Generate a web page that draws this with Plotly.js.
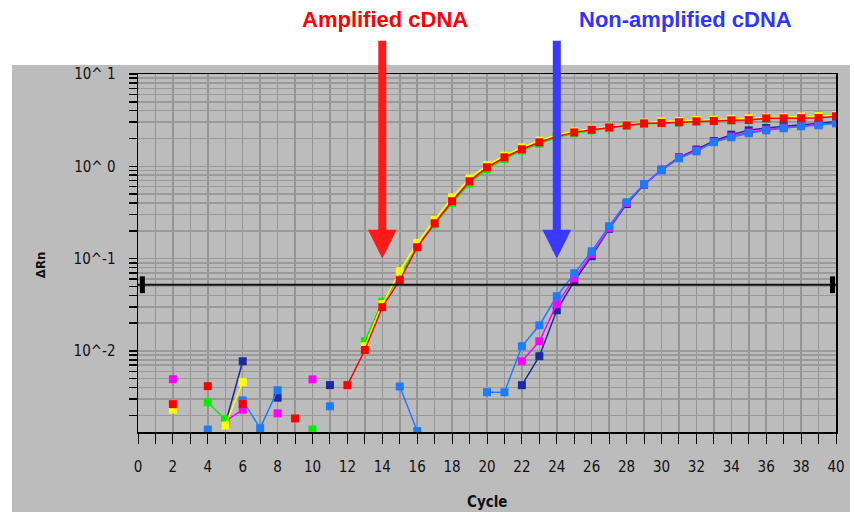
<!DOCTYPE html>
<html>
<head>
<meta charset="utf-8">
<script src="https://cdn.plot.ly/plotly-3.0.1.min.js"></script>
<style>html,body{margin:0;padding:0;background:#fff;}#chart{width:854px;height:512px;}</style>
</head>
<body>
<div id="chart"></div>
<script>
// Cycles 1..40
const cycles = Array.from({length: 40}, (_, i) => i + 1);

// Amplified cDNA series (null = not plotted)
const redVals = [null,0.00264,null,0.00414,null,0.00265,null,null,0.00185,null,
  null,0.00425,0.0102,0.0297,0.0582,0.1325,0.241,0.418,0.687,0.975,
  1.25,1.53,1.82,2.11,2.33,2.49,2.64,2.78,2.92,2.95,
  3.0,3.07,3.1,3.15,3.17,3.31,3.31,3.32,3.33,3.48];
const yellowVals = [null,0.0023,null,null,0.00155,0.00457,null,null,null,null,
  null,null,0.0112,0.032,0.0728,0.148,0.262,0.46,0.74,1.03,
  1.3,1.6,1.9,2.18,2.38,2.55,2.68,2.82,2.98,3.06,
  3.1,3.18,3.2,3.27,3.3,3.38,3.4,3.45,3.5,3.6];
const greenVals = [null,null,null,0.00277,0.0018,null,null,null,null,0.0014,
  null,null,0.0127,0.034,0.063,0.135,0.235,0.40,0.65,0.93,
  1.2,1.48,1.76,2.05,2.28,2.45,2.6,2.74,2.88,2.93,
  2.98,3.05,3.1,3.15,3.2,3.3,3.35,3.42,3.55,3.6];

// Non-amplified cDNA series
const navyVals = [null,null,null,null,0.0016,0.0077,null,0.0031,null,null,
  0.00425,null,null,null,null,null,null,null,null,null,
  null,0.00424,0.00874,0.0275,0.0568,0.106,0.21,0.39,0.63,0.92,
  1.25,1.52,1.88,2.2,2.45,2.6,2.72,2.82,2.9,3.05];
const magentaVals = [null,0.00492,null,null,0.00172,0.0023,null,0.0021,null,0.0049,
  null,null,null,null,null,null,null,null,null,null,
  null,0.0077,0.0127,0.032,0.061,0.112,0.215,0.40,0.635,0.91,
  1.23,1.48,1.84,2.1,2.32,2.5,2.62,2.74,2.82,2.95];
const lightBlueVals = [null,null,null,0.0014,null,0.0029,0.00145,0.00374,null,null,
  0.0025,null,null,null,0.0041,0.00135,null,null,null,0.00356,
  0.00356,0.0112,0.0189,0.039,0.0693,0.12,0.224,0.407,0.638,0.905,
  1.22,1.45,1.82,2.06,2.28,2.45,2.58,2.71,2.78,2.92];

// Threshold
const thresholdValue = 0.052;
const thresholdLineX = [0, 40];
const thresholdMarkX = [0.25, 39.8];

// Axis ticks
const xTickVals = [0,2,4,6,8,10,12,14,16,18,20,22,24,26,28,30,32,34,36,38,40];
const yDecades = [0.01, 0.1, 1, 10];
const yDecadeLabels = ["10^-2", "10^-1", "10^ 0", "10^ 1"];
const yMinorMult = [2,3,4,5,6,7,8,9];

// Arrow positions (cycle)
const ampArrowCycle = 14;
const nonArrowCycle = 24;

let yTickVals = [], yTickText = [];
[0.001, 0.01, 0.1, 1].forEach(d => {
  if (d >= 0.01) { yTickVals.push(d); yTickText.push(yDecadeLabels[yDecades.indexOf(d)]); }
  yMinorMult.forEach(m => { const v = +(m * d).toPrecision(3); if (v > 0.0013) { yTickVals.push(v); yTickText.push(""); } });
});
yTickVals.push(10); yTickText.push("10^ 1");

function series(vals, color, name) {
  return {
    x: cycles, y: vals, type: 'scatter', mode: 'lines+markers', name: name,
    connectgaps: false,
    line: {color: color, width: 1.5},
    marker: {symbol: 'square', size: 8, color: color, line: {width: 0}}
  };
}

const data = [
  series(navyVals, '#1b2a9e', 'navy'),
  series(magentaVals, '#ff00ff', 'magenta'),
  series(lightBlueVals, '#1e7bff', 'lightblue'),
  series(greenVals, '#00ee00', 'green'),
  series(yellowVals, '#ffff00', 'yellow'),
  series(redVals, '#ff0000', 'red'),
  {x: thresholdLineX, y: thresholdLineX.map(() => thresholdValue), type: 'scatter', mode: 'lines',
   line: {color: '#111', width: 2}, hoverinfo: 'skip'},
  {x: thresholdMarkX, y: thresholdMarkX.map(() => thresholdValue), type: 'scatter', mode: 'markers',
   marker: {symbol: 'line-ns', size: 12, line: {color: '#000', width: 5}}, cliponaxis: false, hoverinfo: 'skip'}
];

const tickFont = {family: 'DejaVu Sans Condensed, DejaVu Sans, sans-serif', size: 15, color: '#111'};

const layout = {
  width: 854, height: 512,
  margin: {l: 138, r: 18, t: 74, b: 80, pad: 0},
  paper_bgcolor: '#ffffff',
  plot_bgcolor: '#e3e3e3',
  showlegend: false,
  xaxis: {
    type: 'linear', range: [0, 40], autorange: false,
    tickvals: xTickVals, ticktext: xTickVals.map(String),
    ticks: 'outside', ticklen: 10, tickwidth: 1, tickcolor: '#000',
    ticklabelstandoff: 10,
    minor: {dtick: 1, ticks: 'outside', ticklen: 10, tickwidth: 1, tickcolor: '#000', showgrid: true, gridcolor: '#959595', gridwidth: 1.5},
    showgrid: true, gridcolor: '#959595', gridwidth: 1.5,
    showline: true, linecolor: '#000', linewidth: 1.5, mirror: true,
    zeroline: false, tickfont: tickFont
  },
  yaxis: {
    type: 'log', range: [-2.88, 1.0], autorange: false,
    tickvals: yTickVals, ticktext: yTickText,
    ticks: 'outside', ticklen: 8, tickwidth: 1.5, tickcolor: '#000',
    ticklabelstandoff: 10,
    showgrid: true, gridcolor: '#9a9a9a', gridwidth: 1.5,
    showline: true, linecolor: '#000', linewidth: 1.5, mirror: true,
    zeroline: false, tickfont: tickFont
  },
  shapes: [
    {type: 'rect', xref: 'paper', yref: 'paper', x0: -0.1805, x1: 1.02, y0: -0.2235, y1: 1.025,
     fillcolor: '#bcbcbc', line: {width: 0}, layer: 'below'}
  ],
  annotations: [
    {xref: 'paper', yref: 'paper', x: 0.354, y: 1.151, xanchor: 'center', yanchor: 'middle', text: 'Amplified cDNA', showarrow: false,
     font: {family: 'Liberation Sans, Arial, sans-serif', size: 22, color: '#ff0000', weight: 'bold'}},
    {xref: 'paper', yref: 'paper', x: 0.785, y: 1.151, xanchor: 'center', yanchor: 'middle', text: 'Non-amplified cDNA', showarrow: false,
     font: {family: 'Liberation Sans, Arial, sans-serif', size: 22, color: '#3333ff', weight: 'bold'}},
    {xref: 'x', yref: 'y', x: ampArrowCycle, y: -1.0, axref: 'x', ayref: 'y', ax: ampArrowCycle, ay: 1.376,
     text: '', showarrow: true, arrowhead: 2, arrowsize: 0.72, arrowwidth: 8, arrowcolor: '#ff1a1a', standoff: 0},
    {xref: 'x', yref: 'y', x: nonArrowCycle, y: -1.0, axref: 'x', ayref: 'y', ax: nonArrowCycle, ay: 1.376,
     text: '', showarrow: true, arrowhead: 2, arrowsize: 0.72, arrowwidth: 8, arrowcolor: '#3a3aff', standoff: 0},
    {xref: 'paper', yref: 'paper', x: 0.5, y: -0.1955, xanchor: 'center', yanchor: 'middle', text: 'Cycle', showarrow: false,
     font: {family: 'DejaVu Sans Condensed, DejaVu Sans, sans-serif', size: 15, color: '#111', weight: 'bold'}},
    {xref: 'paper', yref: 'paper', x: -0.1404, y: 0.466, xanchor: 'center', yanchor: 'middle', text: 'ΔRn', showarrow: false, textangle: -90,
     font: {family: 'DejaVu Sans Condensed, DejaVu Sans, sans-serif', size: 13, color: '#111', weight: 'bold'}}
  ]
};

Plotly.newPlot('chart', data, layout, {staticPlot: true, displayModeBar: false});
</script>
</body>
</html>
